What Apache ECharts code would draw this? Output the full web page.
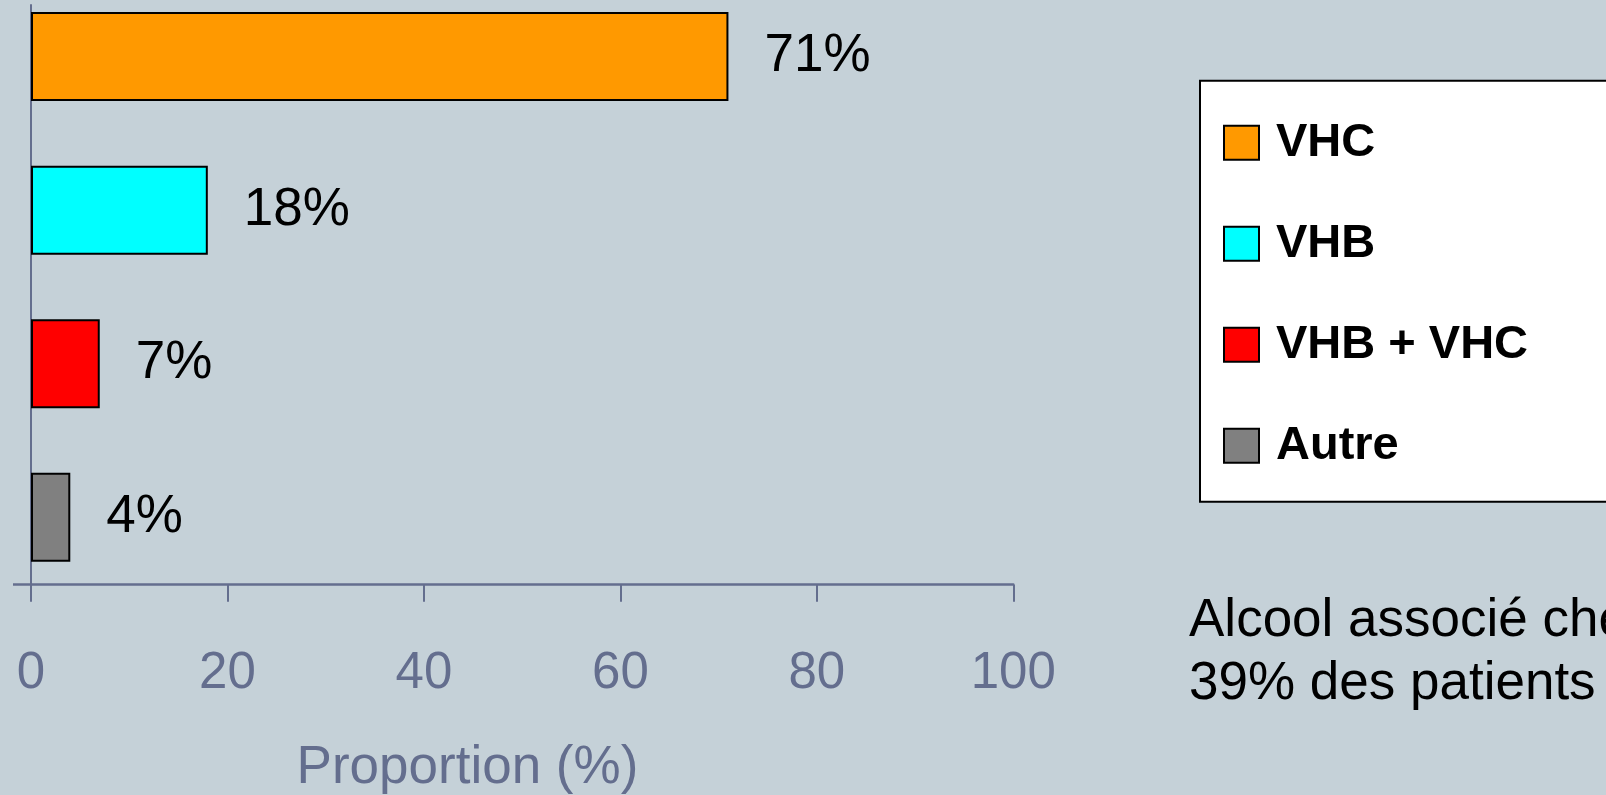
<!DOCTYPE html>
<html>
<head>
<meta charset="utf-8">
<script src="https://cdn.jsdelivr.net/npm/echarts@6/dist/echarts.min.js"></script>
<style>
  html, body { margin: 0; padding: 0; background: #c5d1d8; }
  #chart { width: 1606px; height: 795px; }
</style>
</head>
<body>
<div id="chart"></div>
<script>
// Proportion of patients by cause
const categories = ['VHC', 'VHB', 'VHB + VHC', 'Autre'];
const values = [71, 18, 7, 4];
const barColors = ['#ff9900', '#00ffff', '#ff0000', '#808080'];
const xTicks = [0, 20, 40, 60, 80, 100];
const axisTitle = 'Proportion (%)';
const noteLines = ['Alcool associé chez', '39% des patients'];

const FONT = "'Liberation Sans', Arial, sans-serif";
const AXIS_COLOR = '#646e8e';

// one series per category so every cause gets its own legend entry
const series = categories.map((name, i) => ({
  name: name,
  type: 'bar',
  xAxisIndex: 1,
  yAxisIndex: 1,
  stack: 'causes',
  barWidth: 89,
  data: categories.map((c, j) => (j === i ? values[i] : null)),
  itemStyle: { color: barColors[i], borderColor: '#000', borderWidth: 2 },
  label: {
    show: true,
    position: 'right',
    distance: 36,
    formatter: '{c}%',
    fontFamily: FONT,
    fontSize: 53,
    color: '#000'
  }
}));

// empty series on the axis grid keeps that grid drawn
series.push({
  type: 'line',
  xAxisIndex: 0,
  yAxisIndex: 0,
  data: [],
  silent: true
});

const chart = echarts.init(document.getElementById('chart'));
chart.setOption({
  backgroundColor: '#c5d1d8',
  animation: false,
  grid: [
    // axes frame
    { left: 31, right: 592.7, top: 5, bottom: 210.3, outerBoundsMode: 'none' },
    // bar area
    { left: 31, right: 592.7, top: -20.2, bottom: 201, outerBoundsMode: 'none' }
  ],
  xAxis: [
    {
      gridIndex: 0,
      type: 'value',
      min: xTicks[0],
      max: xTicks[xTicks.length - 1],
      interval: xTicks[1] - xTicks[0],
      axisLine: { show: true, onZero: false, lineStyle: { color: AXIS_COLOR, width: 2.5 } },
      axisTick: { show: true, length: 17, lineStyle: { color: AXIS_COLOR, width: 2 } },
      axisLabel: { fontFamily: FONT, fontSize: 51, color: AXIS_COLOR, margin: 64 },
      splitLine: { show: false }
    },
    {
      gridIndex: 1,
      type: 'value',
      min: xTicks[0],
      max: xTicks[xTicks.length - 1],
      show: false,
      splitLine: { show: false }
    }
  ],
  yAxis: [
    {
      gridIndex: 0,
      type: 'value',
      min: 0,
      max: 1,
      axisLine: { show: true, lineStyle: { color: AXIS_COLOR, width: 2 } },
      axisTick: { show: true, length: 18, customValues: [0], lineStyle: { color: AXIS_COLOR, width: 2.5 } },
      axisLabel: { show: false },
      splitLine: { show: false }
    },
    {
      gridIndex: 1,
      type: 'category',
      inverse: true,
      data: categories,
      show: false
    }
  ],
  legend: {
    data: categories,
    orient: 'vertical',
    left: 1200,
    top: 80.7,
    padding: [35, 250, 29, 23],
    itemGap: 47,
    itemWidth: 35,
    itemHeight: 34,
    icon: 'rect',
    selectedMode: false,
    backgroundColor: '#ffffff',
    borderColor: '#000000',
    borderWidth: 2,
    borderRadius: 0,
    textStyle: {
      fontFamily: FONT,
      fontSize: 47,
      fontWeight: 'bold',
      color: '#000',
      lineHeight: 48,
      padding: [6, 0, 0, 12]
    }
  },
  graphic: [
    {
      type: 'text',
      left: 468.6 - 172,
      top: 768 - 26.5,
      style: {
        text: axisTitle,
        fontFamily: FONT,
        fontSize: 53,
        fill: AXIS_COLOR
      }
    },
    {
      type: 'text',
      left: 1189,
      top: 590,
      style: {
        text: noteLines.join('\n'),
        fontFamily: FONT,
        fontSize: 53,
        lineHeight: 63,
        fill: '#000'
      }
    }
  ],
  series: series
});
</script>
</body>
</html>
